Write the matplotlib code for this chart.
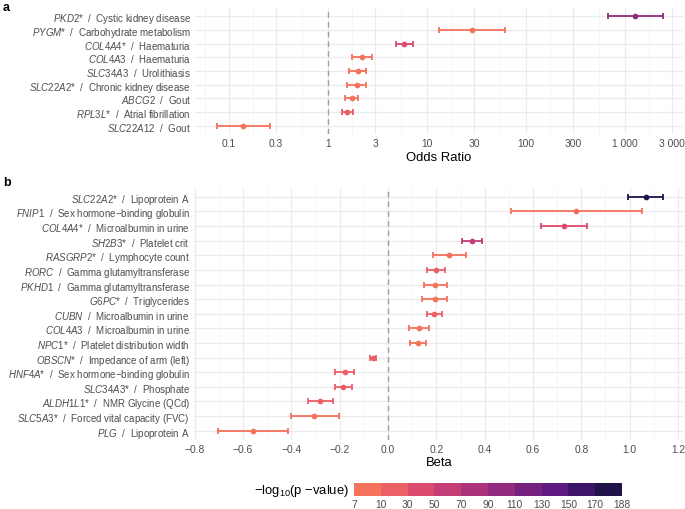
import numpy as np
import matplotlib
matplotlib.use("Agg")
import matplotlib.pyplot as plt
from matplotlib.colors import ListedColormap, BoundaryNorm
from matplotlib.colorbar import ColorbarBase

plt.rcParams["font.family"] = ["Liberation Sans", "DejaVu Sans"]
plt.rcParams["mathtext.fontset"] = "custom"
plt.rcParams["mathtext.rm"] = "Liberation Sans"
plt.rcParams["mathtext.it"] = "Liberation Sans:italic"

# ---- panel a: odds ratios (top to bottom)
a_genes = ["PKD2*", "PYGM*", "COL4A4*", "COL4A3", "SLC34A3", "SLC22A2*", "ABCG2", "RPL3L*", "SLC22A12"]
a_traits = ["Cystic kidney disease", "Carbohydrate metabolism", "Haematuria", "Haematuria",
            "Urolithiasis", "Chronic kidney disease", "Gout", "Atrial fibrillation", "Gout"]
a_or = [1260, 28.5, 5.85, 2.2, 2.0, 1.95, 1.73, 1.57, 0.138]
a_lo = [675, 13.2, 4.86, 1.76, 1.63, 1.57, 1.5, 1.4, 0.075]
a_hi = [2400, 61, 7.2, 2.78, 2.42, 2.4, 2.0, 1.78, 0.26]
a_logp = [100, 8, 40, 8, 8, 8, 9, 15, 8]
a_ticks = [0.1, 0.3, 1, 3, 10, 30, 100, 300, 1000, 3000]
a_ticklabels = ["0.1", "0.3", "1", "3", "10", "30", "100", "300", "1 000", "3 000"]

# ---- panel b: betas (top to bottom)
b_genes = ["SLC22A2*", "FNIP1", "COL4A4*", "SH2B3*", "RASGRP2*", "RORC", "PKHD1", "G6PC*", "CUBN",
           "COL4A3", "NPC1*", "OBSCN*", "HNF4A*", "SLC34A3*", "ALDH1L1*", "SLC5A3*", "PLG"]
b_traits = ["Lipoprotein A", "Sex hormone\u2212binding globulin", "Microalbumin in urine", "Platelet crit",
            "Lymphocyte count", "Gamma glutamyltransferase", "Gamma glutamyltransferase", "Triglycerides",
            "Microalbumin in urine", "Microalbumin in urine", "Platelet distribution width",
            "Impedance of arm (left)", "Sex hormone\u2212binding globulin", "Phosphate",
            "NMR Glycine (QCd)", "Forced vital capacity (FVC)", "Lipoprotein A"]
b_beta = [1.066, 0.778, 0.73, 0.346, 0.253, 0.198, 0.195, 0.193, 0.191, 0.128, 0.123,
          -0.061, -0.176, -0.185, -0.28, -0.305, -0.559]
b_lo = [0.993, 0.508, 0.632, 0.305, 0.186, 0.162, 0.149, 0.14, 0.161, 0.087, 0.091,
        -0.073, -0.218, -0.218, -0.332, -0.402, -0.704]
b_hi = [1.138, 1.05, 0.825, 0.387, 0.321, 0.234, 0.243, 0.244, 0.222, 0.171, 0.157,
        -0.048, -0.139, -0.149, -0.226, -0.204, -0.412]
b_logp = [180, 8, 40, 60, 8, 20, 8, 8, 20, 8, 8, 15, 20, 20, 20, 9, 8]
b_ticks = [-0.8, -0.6, -0.4, -0.2, 0.0, 0.2, 0.4, 0.6, 0.8, 1.0, 1.2]

# ---- colour scale
bin_edges = [7, 10, 30, 50, 70, 90, 110, 130, 150, 170, 188]
bin_colors = ["#F5725C", "#EB5F66", "#DC4A6F", "#C43D75", "#AB337B",
              "#922B7D", "#77217F", "#5E1A80", "#3D1568", "#21134A"]
cmap = ListedColormap(bin_colors)
norm = BoundaryNorm(bin_edges, cmap.N)

LABEL_COL = "#4D4D4D"
GRID_MAJOR = "#EBEBEB"
GRID_MINOR = "#F4F4F4"

W, H = 685, 510
fig = plt.figure(figsize=(W / 100, H / 100), dpi=100)


def px_axes(left, top, right, bottom):
    return fig.add_axes([left / W, 1 - bottom / H, (right - left) / W, (bottom - top) / H])


def ylabels(genes, traits):
    return [r"$\mathit{%s}$%s  /  %s" % (g.rstrip("*"), "*" if g.endswith("*") else "", t)
            for g, t in zip(genes, traits)]


def style(ax, n):
    for s in ax.spines.values():
        s.set_visible(False)
    ax.tick_params(length=0, labelsize=7.4, labelcolor=LABEL_COL, pad=3)
    ax.tick_params(axis="y", labelsize=7.0)
    ax.set_ylim(-0.6, n - 0.4)
    for y in range(n):
        ax.axhline(y, color=GRID_MAJOR, lw=0.9, zorder=0)
    ax.set_axisbelow(True)


def draw_rows(ax, est, lo, hi, logp):
    n = len(est)
    for i in range(n):
        y = n - 1 - i
        c = cmap(norm(logp[i]))
        ax.errorbar(est[i], y, xerr=[[est[i] - lo[i]], [hi[i] - est[i]]], fmt="o", color=c,
                    ms=3.1, elinewidth=1.3, capsize=2.2, capthick=1.3, zorder=3)


# ---- panel a
axa = px_axes(195, 9, 683, 135)
na = len(a_genes)
style(axa, na)
axa.set_xscale("log")
axa.set_xlim(10 ** -1.343, 10 ** 3.586)
la = np.log10(a_ticks)
mids = np.concatenate([[la[0] - (la[1] - la[0]) / 2], (la[:-1] + la[1:]) / 2, [la[-1] + (la[-1] - la[-2]) / 2]])
for m in mids:
    axa.axvline(10 ** m, color=GRID_MINOR, lw=0.6, zorder=0)
for t in a_ticks:
    axa.axvline(t, color=GRID_MAJOR, lw=0.9, zorder=0)
axa.axvline(1, color="#A0A0A0", lw=1.0, ls=(0, (4, 3)), zorder=1)
axa.set_xticks(a_ticks)
axa.set_xticklabels(a_ticklabels)
axa.xaxis.set_minor_locator(matplotlib.ticker.NullLocator())
axa.set_yticks(range(na))
axa.set_yticklabels(ylabels(a_genes, a_traits)[::-1])
draw_rows(axa, a_or, a_lo, a_hi, a_logp)
axa.set_xlabel("Odds Ratio", fontsize=9.4, labelpad=2)

# ---- panel b
axb = px_axes(194, 189, 684, 440.5)
nb = len(b_genes)
style(axb, nb)
axb.set_xlim(-0.803, 1.225)
for m in np.arange(-0.9, 1.31, 0.2):
    axb.axvline(m, color=GRID_MINOR, lw=0.6, zorder=0)
for t in b_ticks:
    axb.axvline(t, color=GRID_MAJOR, lw=0.9, zorder=0)
axb.axvline(0, color="#A0A0A0", lw=1.0, ls=(0, (4, 3)), zorder=1)
axb.set_xticks(b_ticks)
axb.set_xticklabels([f"{t:.1f}".replace("-", "\u2212") for t in b_ticks])
axb.set_yticks(range(nb))
axb.set_yticklabels(ylabels(b_genes, b_traits)[::-1])
draw_rows(axb, b_beta, b_lo, b_hi, b_logp)
axb.set_xlabel("Beta", fontsize=9.4, labelpad=2)

fig.text(3 / W, 1 - 8 / H, "a", fontsize=9, fontweight="bold", va="center")
fig.text(3 / W, 1 - 183 / H, "b", fontsize=9, fontweight="bold", va="center")

# ---- colour bar
cax = px_axes(354, 484, 622, 497)
cb = ColorbarBase(cax, cmap=cmap, norm=norm, orientation="horizontal",
                  boundaries=bin_edges, spacing="uniform", ticks=bin_edges)
cb.outline.set_visible(False)
cb.ax.tick_params(length=0, labelsize=7.4, labelcolor=LABEL_COL, pad=2)
cb.ax.set_xticklabels([str(v) for v in bin_edges])
fig.text(349 / W, 1 - 491 / H, "\u2212log$_{10}$(p \u2212value)", fontsize=9.4,
         ha="right", va="center", color="black")

fig.savefig("out.png", dpi=100)
